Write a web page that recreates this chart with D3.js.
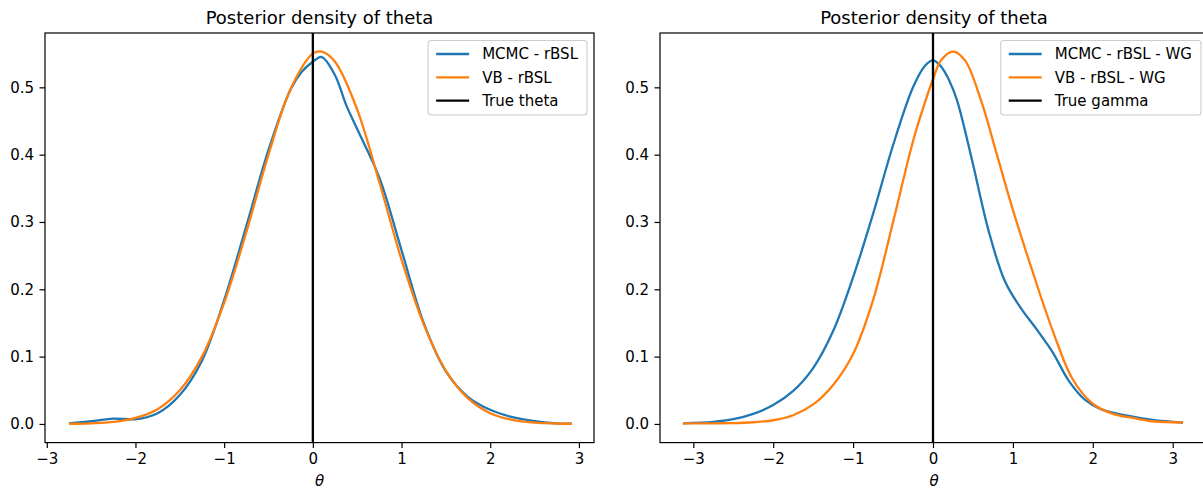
<!DOCTYPE html>
<html><head><meta charset="utf-8">
<script src="https://cdn.jsdelivr.net/npm/d3@7"></script>
<style>
body{margin:0;background:#fff}
svg{display:block}
text{font-family:"DejaVu Sans",sans-serif;fill:#000}
</style>
</head><body>
<svg id="c" width="1203" height="489"></svg>
<script>
// ---- data ----
const titles = ["Posterior density of theta", "Posterior density of theta"];
const xTicks = [-3, -2, -1, 0, 1, 2, 3];
const yTicks = [0.0, 0.1, 0.2, 0.3, 0.4, 0.5];
const xLabel = "θ";

const leftLabels = ["MCMC - rBSL", "VB - rBSL", "True theta"];
const rightLabels = ["MCMC - rBSL - WG", "VB - rBSL - WG", "True gamma"];
const trueValue = 0;

const leftXMCMC = [-2.75,-2.5,-2.25,-2,-1.75,-1.5,-1.25,-1,-0.75,-0.5,-0.25,-0.125,0,0.1,0.25,0.375,0.5,0.75,1,1.25,1.5,1.75,2,2.25,2.5,2.75,2.92];
const leftMCMC = [0.001,0.004,0.008,0.007,0.016,0.043,0.094,0.184,0.294,0.407,0.497,0.523,0.538,0.545,0.518,0.474,0.438,0.366,0.258,0.150,0.078,0.040,0.021,0.010,0.004,0.001,0.0005];
const leftXVB = [-2.75,-2.5,-2.25,-2,-1.75,-1.5,-1.25,-1,-0.75,-0.5,-0.25,0,0.1,0.25,0.5,0.75,1,1.25,1.5,1.75,2,2.25,2.5,2.75,2.92];
const leftVB = [0.0003,0.001,0.003,0.009,0.022,0.050,0.100,0.180,0.285,0.400,0.498,0.550,0.553,0.538,0.467,0.359,0.244,0.148,0.079,0.038,0.016,0.006,0.002,0.0007,0.0003];

const rightXMCMC = [-3.13,-2.75,-2.5,-2.25,-2,-1.75,-1.5,-1.25,-1,-0.75,-0.5,-0.25,-0.1,0,0.1,0.2,0.3,0.4,0.5,0.7,0.9,1.1,1.3,1.5,1.7,1.9,2.1,2.4,2.75,3.13];
const rightMCMC = [0.001,0.003,0.007,0.015,0.028,0.049,0.083,0.138,0.218,0.312,0.414,0.500,0.532,0.540,0.531,0.511,0.481,0.436,0.386,0.285,0.212,0.172,0.140,0.106,0.064,0.036,0.022,0.013,0.006,0.002];
const rightXVB = [-3.13,-2.75,-2.5,-2.25,-2,-1.75,-1.5,-1.25,-1,-0.75,-0.5,-0.25,-0.1,0,0.1,0.25,0.4,0.6,0.8,1,1.25,1.5,1.75,2,2.25,2.5,2.75,3.13];
const rightVB = [0.001,0.001,0.0012,0.0025,0.0055,0.013,0.029,0.058,0.104,0.184,0.300,0.420,0.478,0.512,0.540,0.553,0.540,0.481,0.400,0.318,0.225,0.138,0.066,0.030,0.015,0.009,0.004,0.002];

const colors = ["#1f77b4", "#ff7f0e", "#000000"];

// ---- layout ----
const svg = d3.select("#c");
const axTop = 33, axBottom = 442.6;
const yDomain = [-0.0277, 0.5807];

const panels = [
  {x0: 45, x1: 594, xDomain: [-3.02, 3.17], title: titles[0], labels: leftLabels,
   series: [{x: leftXMCMC, y: leftMCMC}, {x: leftXVB, y: leftVB}]},
  {x0: 660, x1: 1208, xDomain: [-3.417, 3.442], title: titles[1], labels: rightLabels,
   series: [{x: rightXMCMC, y: rightMCMC}, {x: rightXVB, y: rightVB}]}
];

const fs = 15;       // tick / legend font size
const titleFs = 18;
const lw = 2.3;

panels.forEach((p, pi) => {
  const x = d3.scaleLinear().domain(p.xDomain).range([p.x0, p.x1]);
  const y = d3.scaleLinear().domain(yDomain).range([axBottom, axTop]);
  const g = svg.append("g");

  const clipId = "clip" + pi;
  g.append("clipPath").attr("id", clipId).append("rect")
    .attr("x", p.x0).attr("y", axTop).attr("width", p.x1 - p.x0).attr("height", axBottom - axTop);
  const plot = g.append("g").attr("clip-path", `url(#${clipId})`);

  const line = d3.line().x(d => x(d[0])).y(d => y(d[1])).curve(d3.curveCatmullRom.alpha(0.5));
  p.series.forEach((s, si) => {
    plot.append("path")
      .datum(s.x.map((v, i) => [v, s.y[i]]))
      .attr("d", line)
      .attr("fill", "none")
      .attr("stroke", colors[si])
      .attr("stroke-width", lw)
      .attr("stroke-linejoin", "round")
      .attr("stroke-linecap", "butt");
  });
  plot.append("line")
    .attr("x1", x(trueValue)).attr("x2", x(trueValue))
    .attr("y1", axTop).attr("y2", axBottom)
    .attr("stroke", colors[2]).attr("stroke-width", lw);

  // axes
  const xAxis = g.append("g").attr("transform", `translate(0,${axBottom})`)
    .call(d3.axisBottom(x).tickValues(xTicks).tickSize(5.5).tickPadding(5).tickFormat(d3.format("d")));
  const yAxis = g.append("g").attr("transform", `translate(${p.x0},0)`)
    .call(d3.axisLeft(y).tickValues(yTicks).tickSize(5.5).tickPadding(5.5).tickFormat(d3.format(".1f")));
  [xAxis, yAxis].forEach(a => {
    a.select(".domain").remove();
    a.selectAll(".tick line").attr("stroke", "#000").attr("stroke-width", 1.2);
    a.selectAll(".tick text").attr("font-size", fs).attr("font-family", "DejaVu Sans").attr("fill", "#000");
  });

  // spines
  g.append("rect").attr("x", p.x0).attr("y", axTop).attr("width", p.x1 - p.x0).attr("height", axBottom - axTop)
    .attr("fill", "none").attr("stroke", "#000").attr("stroke-width", 1.2);

  // title
  g.append("text").attr("x", (p.x0 + p.x1) / 2).attr("y", 23.5)
    .attr("text-anchor", "middle").attr("font-size", titleFs).text(p.title);
  // x label
  g.append("text").attr("x", (p.x0 + p.x1) / 2).attr("y", 486)
    .attr("text-anchor", "middle").attr("font-size", fs).attr("font-style", "italic").text(xLabel);

  // legend
  const leg = g.append("g");
  const boxRight = p.x1 - 7, boxTop = 40.5, boxH = 74.5;
  const padL = 8, hl = 33, htp = 13, padR = 9, rowH = 23.3;
  const texts = p.labels.map(lab => leg.append("text")
    .attr("font-size", fs).attr("dy", "0.35em").text(lab));
  const tw = d3.max(texts, t => t.node().getComputedTextLength());
  const boxW = padL + hl + htp + tw + padR;
  const boxLeft = boxRight - boxW;
  leg.insert("rect", ":first-child")
    .attr("x", boxLeft).attr("y", boxTop).attr("width", boxW).attr("height", boxH)
    .attr("rx", 3).attr("fill", "#fff").attr("fill-opacity", 0.8)
    .attr("stroke", "#cccccc").attr("stroke-width", 1.1);
  p.labels.forEach((lab, i) => {
    const cy = boxTop + 13.5 + i * rowH;
    leg.append("line").attr("x1", boxLeft + padL).attr("x2", boxLeft + padL + hl)
      .attr("y1", cy).attr("y2", cy).attr("stroke", colors[i]).attr("stroke-width", lw);
    texts[i].attr("x", boxLeft + padL + hl + htp).attr("y", cy);
  });
});
</script>
</body></html>
